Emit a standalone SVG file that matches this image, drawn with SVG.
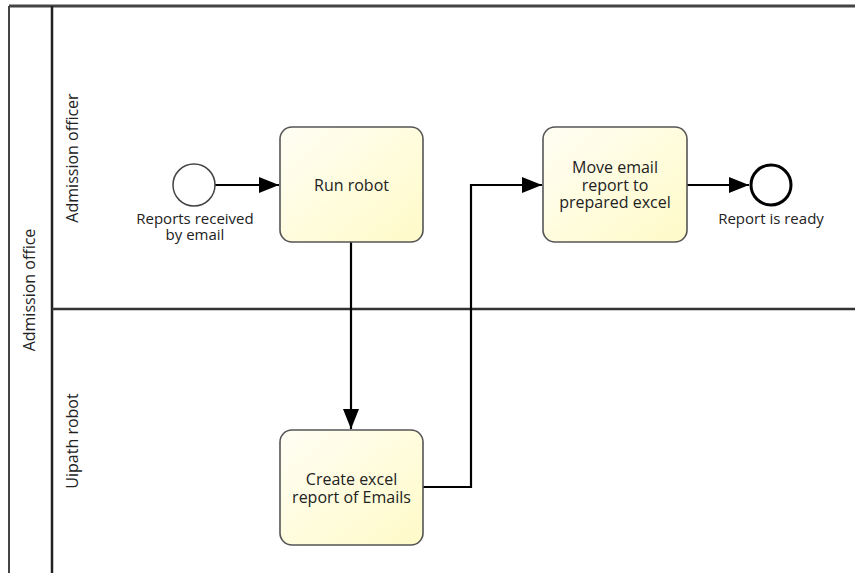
<svg xmlns="http://www.w3.org/2000/svg" width="855" height="573" viewBox="0 0 855 573">
<style>
.task{stroke:#555;stroke-width:1.6;fill:url(#g)}
.t{font-family:"Open Sans","Segoe UI",sans-serif;font-size:16px;fill:#222;text-anchor:middle}
.lbl{font-family:"Open Sans",sans-serif;font-size:15px;fill:#222;text-anchor:middle}
.flow{fill:none;stroke:#000;stroke-width:2.2}
</style>
<defs>
<linearGradient id="g" x1="0" y1="0" x2="1" y2="1">
<stop offset="0" stop-color="#fffef4"/>
<stop offset="1" stop-color="#fffac8"/>
</linearGradient>
<marker id="a" markerWidth="20" markerHeight="16" refX="20" refY="8" orient="auto" markerUnits="userSpaceOnUse">
<path d="M0,0 L20,8 L0,16 z" fill="#000"/>
</marker>
</defs>
<rect width="855" height="573" fill="#fff"/>
<g id="pool">
<line x1="9" y1="6" x2="860" y2="6" stroke="#444" stroke-width="3"/>
<line x1="9" y1="6" x2="9" y2="573" stroke="#444" stroke-width="2"/>
<line x1="52" y1="6" x2="52" y2="573" stroke="#222" stroke-width="2.5"/>
<line x1="52" y1="309" x2="860" y2="309" stroke="#333" stroke-width="2.5"/>
<text class="t" transform="translate(35,290) rotate(-90)">Admission office</text>
<text class="t" transform="translate(78,158) rotate(-90)">Admission officer</text>
<text class="t" transform="translate(78,441) rotate(-90)">Uipath robot</text>
</g>
<g id="connectors">
<path class="flow" d="M215,185 H279" marker-end="url(#a)"/>
<path class="flow" d="M351,242 V429" marker-end="url(#a)"/>
<path class="flow" d="M423,487 H471 V185 H542" marker-end="url(#a)"/>
<path class="flow" d="M687,185 H749" marker-end="url(#a)"/>
</g>
<g id="start">
<circle cx="194" cy="185" r="21" fill="#fff" stroke="#444" stroke-width="1.5"/>
<text class="lbl" x="195" y="224">Reports received</text>
<text class="lbl" x="195" y="240">by email</text>
</g>
<g id="run-robot">
<rect class="task" x="280" y="127" width="143" height="115" rx="12"/>
<text class="t" x="351.5" y="191">Run robot</text>
</g>
<g id="create-excel">
<rect class="task" x="280" y="430" width="143" height="115" rx="12"/>
<text class="t" x="351.5" y="485">Create excel</text>
<text class="t" x="351.5" y="503">report of Emails</text>
</g>
<g id="move-email">
<rect class="task" x="543" y="127" width="144" height="115" rx="12"/>
<text class="t" x="615" y="173">Move email</text>
<text class="t" x="615" y="190.5">report to</text>
<text class="t" x="615" y="208">prepared excel</text>
</g>
<g id="end">
<circle cx="771" cy="185" r="20" fill="#fff" stroke="#000" stroke-width="3"/>
<text class="lbl" x="771" y="224">Report is ready</text>
</g>
</svg>
